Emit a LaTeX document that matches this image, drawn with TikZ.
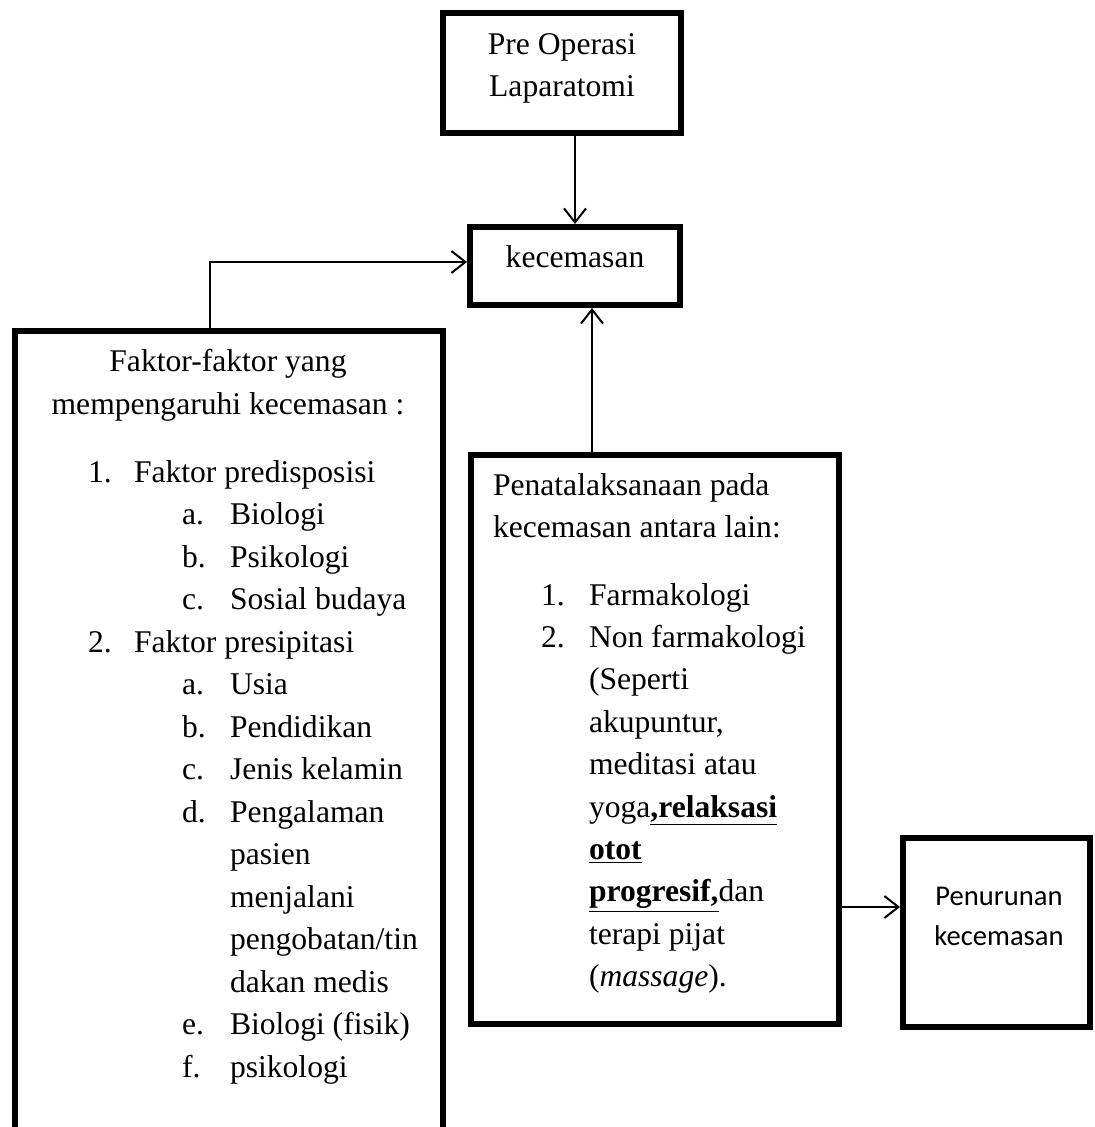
\documentclass[tikz,border=0pt]{standalone}
\usepackage{fontspec}
\setmainfont{Liberation Serif}
\newfontfamily\sansbox{Carlito}
\usetikzlibrary{arrows.meta}

\begin{document}
\begin{tikzpicture}[->,>={Straight Barb[length=7pt,width=11pt]},line width=1pt,
    x=0.5pt,y=-0.5pt,font=\fontsize{15.8}{21}\selectfont]
    \tikzstyle{box}=[draw=black, line width=3pt, rectangle, inner sep=0pt, fill=none]
    \tikzstyle{txt}=[inner sep=0pt, anchor=base west, text=black]
    \tikzstyle{ctxt}=[inner sep=0pt, anchor=base, text=black]

    \useasboundingbox (0,0) rectangle (1094,1127);
    \clip (0,0) rectangle (1094,1127);

    % boxes
    \node[box, minimum width=119pt, minimum height=60pt]    (pre)    at (562,73)      {};
    \node[box, minimum width=105pt, minimum height=39pt]    (kec)    at (575,266)     {};
    \node[box, minimum width=214pt, minimum height=434.5pt] (faktor) at (229,765.5)   {};
    \node[box, minimum width=184pt, minimum height=284.5pt] (tata)   at (655,739.5)   {};
    \node[box, minimum width=93.5pt, minimum height=94.5pt] (turun)  at (996.5,932.5) {};

    % top boxes
    \node[ctxt] (pre1) at (562,55)  {Pre Operasi};
    \node[ctxt] (pre2) at (562,97)  {Laparatomi};
    \node[ctxt] (kec1) at (575,268) {kecemasan};

    % faktor box
    \node[ctxt] (fk1) at (228,372) {Faktor-faktor yang};
    \node[ctxt] (fk2) at (228,415) {mempengaruhi kecemasan :};
    \foreach \x/\k/\lbl in {87/0/1., 181/1/a., 181/2/b., 181/3/c., 87/4/2., 181/5/a.,
        181/6/b., 181/7/c., 181/8/d., 181/13/e., 181/14/f.}
        \node[txt] (fl-\k) at (\x,482+42.5*\k) {\lbl};
    \foreach \x/\k/\txt in {133/0/Faktor predisposisi, 229/1/Biologi, 229/2/Psikologi,
        229/3/Sosial budaya, 133/4/Faktor presipitasi, 229/5/Usia, 229/6/Pendidikan,
        229/7/Jenis kelamin, 229/8/Pengalaman, 229/9/pasien, 229/10/menjalani,
        229/11/{pengobatan/tin}, 229/12/dakan medis, 229/13/Biologi (fisik), 229/14/psikologi}
        \node[txt] (ft-\k) at (\x,482+42.5*\k) {\txt};

    % penatalaksanaan box
    \node[txt] (tt1) at (492,495) {Penatalaksanaan pada};
    \node[txt] (tt2) at (492,537) {kecemasan antara lain:};
    \node[txt] (tl-0) at (540,605)   {1.};
    \node[txt] (tl-1) at (540,647.4) {2.};
    \foreach \k/\txt in {0/Farmakologi, 1/Non farmakologi, 2/(Seperti, 3/{akupuntur,},
        4/meditasi atau, 5/{yoga\underline{\textbf{,relaksasi}}}, 6/\underline{\textbf{otot}},
        7/{\underline{\textbf{progresif,}}dan}, 8/terapi pijat, 9/(\textit{massage}).}
        \node[txt] (tx-\k) at (588,605+42.4*\k) {\txt};

    % penurunan box
    \node[ctxt, font=\sansbox\fontsize{14.3}{18}\selectfont] (tr1) at (999,905) {Penurunan};
    \node[ctxt, font=\sansbox\fontsize{14.3}{18}\selectfont] (tr2) at (999,945) {kecemasan};

    % arrows
    \coordinate (fk-up)  at ([xshift=-9.5pt]faktor.north);
    \coordinate (tt-up)  at ([xshift=-31.5pt]tata.north);
    \coordinate (tt-out) at ([yshift=-83.75pt]tata.east);
    \draw (pre.south -| kec.north) -- (kec.north);
    \draw (fk-up) |- ([yshift=2pt]kec.west);
    \draw (tt-up) -- (tt-up |- kec.south);
    \draw (tt-out) -- (tt-out -| turun.west);
\end{tikzpicture}
\end{document}
